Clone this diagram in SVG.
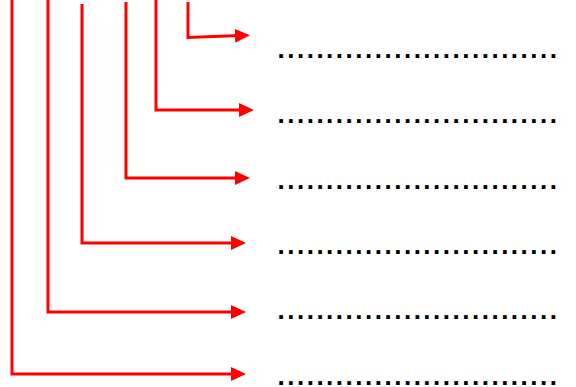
<svg xmlns="http://www.w3.org/2000/svg" width="576" height="387" viewBox="0 0 576 387">
<style>
.c{fill:none;stroke:#ff0000;stroke-width:3;stroke-linejoin:miter}
.t{font-family:"Liberation Sans",Arial,sans-serif;font-weight:bold;font-size:26px;letter-spacing:2.5px;fill:#000}
</style>
<defs>
<marker id="ah" markerUnits="userSpaceOnUse" viewBox="0 0 15 14" markerWidth="15" markerHeight="14" refX="5" refY="7" orient="auto">
<path d="M0,0 L15,7 L0,14 z" fill="#ff0000"/>
</marker>
</defs>
<g id="connectors">
<path class="c" d="M188,2 V37.5 L240,35.6" marker-end="url(#ah)"/>
<path class="c" d="M156,0 V110 H244" marker-end="url(#ah)"/>
<path class="c" d="M126,2 V178 H240" marker-end="url(#ah)"/>
<path class="c" d="M82,4 V243 H236" marker-end="url(#ah)"/>
<path class="c" d="M48,0 V312 H236" marker-end="url(#ah)"/>
<path class="c" d="M12,0 V374 H236" marker-end="url(#ah)"/>
</g>
<g id="n1"><text class="t" x="277.5" y="58">.............................</text></g>
<g id="n2"><text class="t" x="277.5" y="123">.............................</text></g>
<g id="n3"><text class="t" x="277.5" y="189">.............................</text></g>
<g id="n4"><text class="t" x="277.5" y="254">.............................</text></g>
<g id="n5"><text class="t" x="277.5" y="319">.............................</text></g>
<g id="n6"><text class="t" x="277.5" y="385">.............................</text></g>
</svg>
